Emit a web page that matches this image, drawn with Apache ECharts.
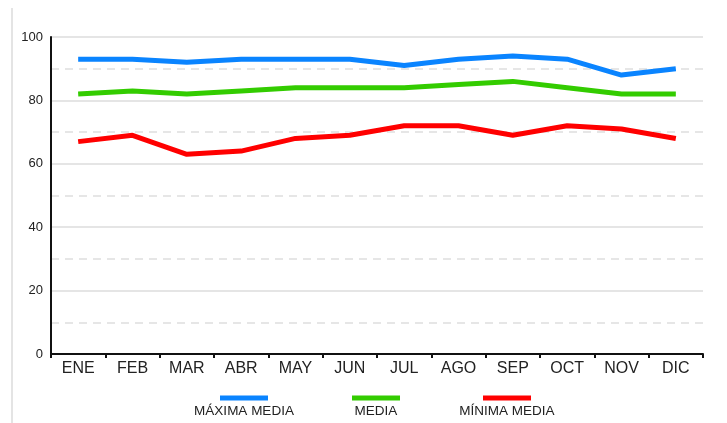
<!DOCTYPE html>
<html>
<head>
<meta charset="utf-8">
<script src="https://cdn.jsdelivr.net/npm/echarts@6/dist/echarts.min.js"></script>
<style>
  html, body { margin: 0; padding: 0; background: #fff; }
  #chart { width: 727px; height: 423px; }
</style>
</head>
<body>
<div id="chart"></div>
<script>
// Monthly temperature averages
const months = ['ENE', 'FEB', 'MAR', 'ABR', 'MAY', 'JUN', 'JUL', 'AGO', 'SEP', 'OCT', 'NOV', 'DIC'];
const maximaMedia = [93, 93, 92, 93, 93, 93, 91, 93, 94, 93, 88, 90];
const media       = [82, 83, 82, 83, 84, 84, 84, 85, 86, 84, 82, 82];
const minimaMedia = [67, 69, 63, 64, 68, 69, 72, 72, 69, 72, 71, 68];
const yTicks = [0, 20, 40, 60, 80, 100];

const seriesDefs = [
  { name: 'MÁXIMA MEDIA', data: maximaMedia, color: '#0a84ff', center: 244 },
  { name: 'MEDIA',        data: media,       color: '#33cc00', center: 376 },
  { name: 'MÍNIMA MEDIA', data: minimaMedia, color: '#ff0000', center: 507 }
];

const chart = echarts.init(document.getElementById('chart'), null, { renderer: 'canvas' });

// one legend block per series: coloured bar above the label
const legends = seriesDefs.map(s => ({
  data: [s.name],
  top: 387,
  left: s.center - 60 - 5 - 5,
  icon: 'rect',
  itemWidth: 0,
  itemHeight: 0,
  selectedMode: false,
  formatter: name => '{l|}\n{t|' + name + '}',
  textStyle: {
    rich: {
      l: { width: 48, height: 5, lineHeight: 5, backgroundColor: s.color, align: 'center' },
      t: { width: 120, lineHeight: 22, align: 'center', fontSize: 13.5,
           fontFamily: 'Liberation Sans, Arial, sans-serif', color: '#222' }
    }
  }
}));

chart.setOption({
  animation: false,
  backgroundColor: '#fff',
  grid: { left: 51, right: 24, top: 37, bottom: 69, containLabel: false },
  legend: legends,
  xAxis: {
    type: 'category',
    data: months,
    boundaryGap: true,
    axisLine: { lineStyle: { color: '#111', width: 2 } },
    axisTick: { show: true, length: 4, lineStyle: { color: '#111', width: 2 } },
    axisLabel: { fontSize: 16, color: '#222', margin: 7, fontFamily: 'Liberation Sans, Arial, sans-serif' },
    splitLine: { show: false }
  },
  yAxis: {
    type: 'value',
    min: 0, max: 100, interval: 20,
    axisLine: { show: true, lineStyle: { color: '#111', width: 2 } },
    axisTick: { show: false },
    axisLabel: {
      fontSize: 13, color: '#222', margin: 8,
      fontFamily: 'Liberation Sans, Arial, sans-serif',
      formatter: v => yTicks.includes(v) ? String(v) : ''
    },
    splitLine: { show: true, lineStyle: { color: '#dcdcdc', width: 1.5 } },
    minorTick: { show: false, splitNumber: 2 },
    minorSplitLine: { show: true, lineStyle: { color: '#dedede', width: 1.5, type: [8, 6] } }
  },
  series: seriesDefs.map(s => ({
    name: s.name,
    type: 'line',
    data: s.data,
    symbol: 'none',
    lineStyle: { color: s.color, width: 5 },
    itemStyle: { color: s.color }
  })),
  graphic: [{
    type: 'line',
    shape: { x1: 12, y1: 8, x2: 12, y2: 423 },
    style: { stroke: '#e4e4e4', lineWidth: 2 },
    silent: true
  }]
});
</script>
</body>
</html>
